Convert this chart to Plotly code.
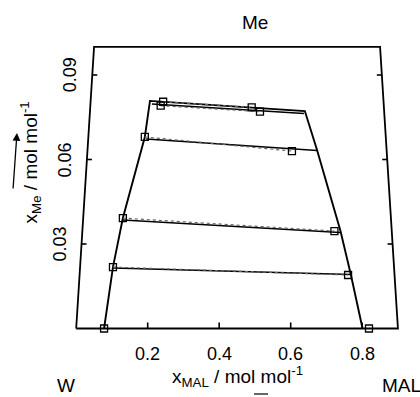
import plotly.graph_objects as go

# ---- data (ternary compositions: x_MAL, x_Me in mol/mol) ----
binodal_mal = [0.078, 0.092, 0.111, 0.158, 0.166, 0.601, 0.642, 0.722, 0.759, 0.801]
binodal_me = [0.000, 0.0218, 0.0392, 0.068, 0.0808, 0.0772, 0.0634, 0.0346, 0.019, 0.000]

calc_left_mal = [0.092, 0.1116, 0.162, 0.172]
calc_left_me = [0.0215, 0.0385, 0.0673, 0.0797]
calc_right_mal = [0.759, 0.721, 0.642, 0.599]
calc_right_me = [0.0192, 0.0341, 0.0632, 0.0763]

exp_left_mal = [0.092, 0.111, 0.158, 0.203, 0.1968]
exp_left_me = [0.0218, 0.0392, 0.068, 0.0805, 0.0791]
exp_right_mal = [0.751, 0.705, 0.572, 0.4517, 0.4756]
exp_right_me = [0.0190, 0.0346, 0.063, 0.0785, 0.077]

binary_mal = [0.078, 0.819]
binary_me = [0.0, 0.0]

x_ticks = [0.2, 0.4, 0.6, 0.8]
x_tick_labels = ["0.2", "0.4", "0.6", "0.8"]
y_ticks = [0.03, 0.06, 0.09]
y_tick_labels = ["0.03", "0.06", "0.09"]

MAL_MAX = 0.9   # window: x_W >= 0.1
ME_MAX = 0.1

FONT = "Liberation Sans, Arial, Helvetica, sans-serif"


def proj(mal, me):
    """ternary (x_MAL, x_Me) -> cartesian plot coordinates"""
    return mal + 0.5 * me, me


def proj_list(mals, mes):
    xs, ys = [], []
    for a, b in zip(mals, mes):
        x, y = proj(a, b)
        xs.append(x)
        ys.append(y)
    return xs, ys


def segments(lm, le, rm, re):
    xs, ys = [], []
    for a, b, c, d in zip(lm, le, rm, re):
        x1, y1 = proj(a, b)
        x2, y2 = proj(c, d)
        xs += [x1, x2, None]
        ys += [y1, y2, None]
    return xs, ys


fig = go.Figure()

# frame (trapezoid window of the ternary diagram)
frame_mal = [0.0, MAL_MAX, MAL_MAX - ME_MAX, 0.0, 0.0]
frame_me = [0.0, 0.0, ME_MAX, ME_MAX, 0.0]
fx, fy = proj_list(frame_mal, frame_me)
fig.add_trace(go.Scatter(x=fx, y=fy, mode="lines",
                         line=dict(color="black", width=1.8), hoverinfo="skip"))

# ticks
tick_len_y = 6 / 2816.7
tick_len_x = 5 / 357.5
tx, ty = [], []
for t in x_ticks:
    x, y = proj(t, 0.0)
    tx += [x, x, None]
    ty += [y, y + tick_len_y, None]
for t in y_ticks:
    xl, yl = proj(0.0, t)
    xr, yr = proj(MAL_MAX - t, t)
    tx += [xl, xl + tick_len_x, None, xr, xr - tick_len_x, None]
    ty += [yl, yl, None, yr, yr, None]
fig.add_trace(go.Scatter(x=tx, y=ty, mode="lines",
                         line=dict(color="black", width=1.6), hoverinfo="skip"))

# binodal curve
bx, by = proj_list(binodal_mal, binodal_me)
fig.add_trace(go.Scatter(x=bx, y=by, mode="lines",
                         line=dict(color="black", width=1.9)))

# calculated tie lines (solid)
cx, cy = segments(calc_left_mal, calc_left_me, calc_right_mal, calc_right_me)
fig.add_trace(go.Scatter(x=cx, y=cy, mode="lines",
                         line=dict(color="black", width=1.5)))

# experimental tie lines (dotted)
ex, ey = segments(exp_left_mal, exp_left_me, exp_right_mal, exp_right_me)
fig.add_trace(go.Scatter(x=ex, y=ey, mode="lines",
                         line=dict(color="#666666", width=1.2, dash="dot")))

# experimental points
pm = exp_left_mal + exp_right_mal + binary_mal
pe = exp_left_me + exp_right_me + binary_me
px_, py_ = proj_list(pm, pe)
fig.add_trace(go.Scatter(x=px_, y=py_, mode="markers",
                         marker=dict(symbol="square-open", size=7, color="black",
                                     line=dict(width=1.3, color="black"))))

annotations = []
for t, lab in zip(x_ticks, x_tick_labels):
    x, y = proj(t, 0.0)
    annotations.append(dict(x=x, y=y, text=lab, showarrow=False, yshift=-25,
                            font=dict(size=18, family=FONT, color="black")))
for t, lab in zip(y_ticks, y_tick_labels):
    x, y = proj(0.0, t)
    annotations.append(dict(x=x, y=y, text=lab, showarrow=False, xshift=-22,
                            textangle=-90,
                            font=dict(size=18, family=FONT, color="black")))

annotations += [
    dict(x=proj(0.45, 0)[0], y=0, text="x<sub>MAL</sub> / mol mol<sup>-1</sup>",
         showarrow=False, yshift=-48, font=dict(size=19, family=FONT, color="black")),
    dict(x=proj(0.0, 0)[0], y=0, text="W", showarrow=False, xshift=-10, yshift=-57,
         font=dict(size=19, family=FONT, color="black")),
    dict(x=proj(MAL_MAX, 0)[0], y=0, text="MAL", showarrow=False, xshift=4, yshift=-57,
         font=dict(size=19, family=FONT, color="black")),
    dict(x=proj(0.45, ME_MAX)[0], y=ME_MAX, text="Me", showarrow=False, yshift=24,
         font=dict(size=19, family=FONT, color="black")),
    dict(x=proj(0.0, 0.06)[0], y=0.06, text="x<sub>Me</sub> / mol mol<sup>-1</sup>",
         showarrow=False, xshift=-56, yshift=-3, textangle=-90,
         font=dict(size=19, family=FONT, color="black")),
    # arrow next to y title
    dict(x=-0.1656, y=0.0694, ax=-4, ay=57, text="", showarrow=True,
         arrowhead=2, arrowsize=1.2, arrowwidth=1.3, arrowcolor="black"),
]

fig.add_shape(type="line", x0=0.4973, x1=0.5365, y0=-0.02325, y1=-0.02325,
              line=dict(color="black", width=1.2))

fig.update_layout(
    width=420, height=397,
    margin=dict(l=0, r=0, t=0, b=0),
    paper_bgcolor="white", plot_bgcolor="white",
    showlegend=False,
    xaxis=dict(visible=False, range=[-0.2131, 0.9617], fixedrange=True),
    yaxis=dict(visible=False, range=[-0.02432, 0.11663], fixedrange=True),
    annotations=annotations,
)

fig.write_html("out.html")
